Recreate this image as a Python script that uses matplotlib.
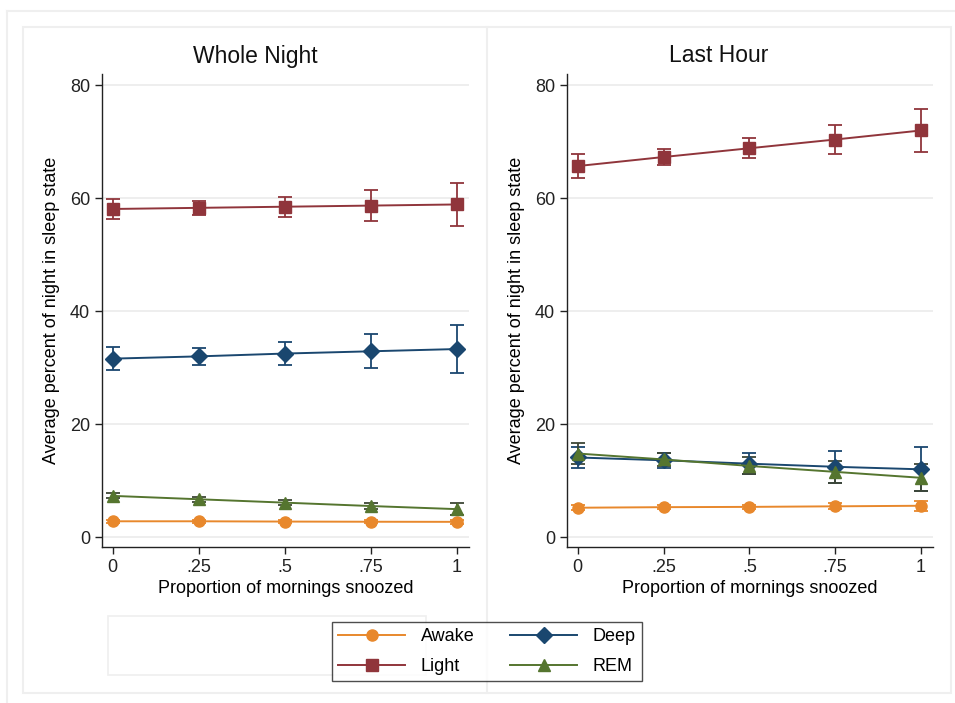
import matplotlib
matplotlib.use("Agg")
import matplotlib.pyplot as plt
from matplotlib.patches import Rectangle
from matplotlib.lines import Line2D

plt.rcParams['font.family'] = ['Liberation Sans', 'DejaVu Sans']

# ---- data ----
x_vals = [0, 0.25, 0.5, 0.75, 1]
x_ticklabels = ["0", ".25", ".5", ".75", "1"]
y_ticks = [0, 20, 40, 60, 80]
series_names = ["Awake", "Light", "Deep", "REM"]
panel_titles = ["Whole Night", "Last Hour"]

# Whole night
wn_awake = [2.8, 2.8, 2.75, 2.72, 2.7]
wn_awake_err = [0.3, 0.25, 0.25, 0.3, 0.4]
wn_light = [58.1, 58.3, 58.5, 58.7, 58.9]
wn_light_err = [1.7, 1.3, 1.8, 2.7, 3.8]
wn_deep = [31.6, 32.0, 32.5, 32.9, 33.3]
wn_deep_err = [2.05, 1.45, 2.0, 3.0, 4.25]
wn_rem = [7.3, 6.7, 6.1, 5.5, 4.95]
wn_rem_err = [0.45, 0.4, 0.45, 0.6, 1.0]

# Last hour
lh_awake = [5.2, 5.3, 5.35, 5.45, 5.55]
lh_awake_err = [0.4, 0.35, 0.4, 0.5, 0.9]
lh_light = [65.7, 67.3, 68.85, 70.4, 72.0]
lh_light_err = [2.05, 1.5, 1.8, 2.65, 3.8]
lh_deep = [14.1, 13.6, 13.0, 12.45, 12.0]
lh_deep_err = [1.9, 1.35, 1.85, 2.8, 3.9]
lh_rem = [14.8, 13.75, 12.6, 11.55, 10.5]
lh_rem_err = [1.8, 1.2, 1.5, 1.9, 2.4]

colors = {"Awake": "#E8882C", "Light": "#90353B", "Deep": "#1A476F", "REM": "#55752F"}
err_colors = {"Awake": "#E8882C", "Light": "#90353B", "Deep": "#1A476F", "REM": "#3E4636"}
markers = {"Awake": "o", "Light": "s", "Deep": "D", "REM": "^"}
msizes = {"Awake": 8, "Light": 8, "Deep": 8, "REM": 9}

panels = [
    {"Awake": (wn_awake, wn_awake_err), "Light": (wn_light, wn_light_err),
     "Deep": (wn_deep, wn_deep_err), "REM": (wn_rem, wn_rem_err)},
    {"Awake": (lh_awake, lh_awake_err), "Light": (lh_light, lh_light_err),
     "Deep": (lh_deep, lh_deep_err), "REM": (lh_rem, lh_rem_err)},
]

W, H = 955, 703
fig = plt.figure(figsize=(W / 100, H / 100), dpi=100)
fig.patch.set_facecolor("white")

def fx(px):
    return px / W

def fy(py):
    return 1 - py / H

# faint frames
frame_col = "#EFEFEF"
fig.add_artist(Line2D([fx(7), fx(7)], [fy(11), fy(703)], color=frame_col, lw=1.5))
fig.add_artist(Line2D([fx(7), fx(955)], [fy(11), fy(11)], color=frame_col, lw=1.5))
fig.add_artist(Rectangle((fx(23), fy(693)), fx(951) - fx(23), fy(27) - fy(693),
                         fill=False, edgecolor=frame_col, lw=1.5))
fig.add_artist(Line2D([fx(487), fx(487)], [fy(27), fy(693)], color=frame_col, lw=1.5))
fig.add_artist(Rectangle((fx(108), fy(675)), fx(426) - fx(108), fy(616) - fy(675),
                         fill=False, edgecolor=frame_col, lw=1.2))

axes_px = [(101.7, 469), (566.7, 933)]
panel_centers = [255, 719]
top_px, bot_px = 74, 546.7
handles = {}
for i, (l, r) in enumerate(axes_px):
    ax = fig.add_axes([fx(l), fy(bot_px), fx(r) - fx(l), fy(top_px) - fy(bot_px)])
    ax.set_xlim(-0.032, 1.035)
    ax.set_ylim(-1.7, 82.0)
    for s in ["top", "right"]:
        ax.spines[s].set_visible(False)
    for s in ["left", "bottom"]:
        ax.spines[s].set_color("#222222")
        ax.spines[s].set_linewidth(1.0)
    ax.set_yticks(y_ticks)
    ax.set_yticklabels([str(v) for v in y_ticks])
    ax.set_xticks(x_vals)
    ax.set_xticklabels(x_ticklabels)
    ax.tick_params(axis="both", labelsize=13, colors="#222222", length=5, width=1.0)
    ax.yaxis.grid(True, color="#EBEBEB", lw=1.2)
    ax.set_axisbelow(True)
    fig.text(fx(panel_centers[i]), fy(56), panel_titles[i], fontsize=16.5,
             color="#111111", ha="center", va="center")
    ax.set_xlabel("Proportion of mornings snoozed", fontsize=13, labelpad=3)
    ax.set_ylabel("Average percent of night in sleep state", fontsize=13, labelpad=7)
    for name in series_names:
        vals, errs = panels[i][name]
        ax.errorbar(x_vals, vals, yerr=errs, fmt="none", ecolor=err_colors[name],
                    elinewidth=1.3, capsize=5, capthick=1.3, zorder=2)
    for name in ["Awake", "Light", "Deep", "REM"]:
        vals, errs = panels[i][name]
        h, = ax.plot(x_vals, vals, color=colors[name], marker=markers[name],
                     markersize=msizes[name], lw=1.4, zorder=3)
        handles[name] = h

leg_order = ["Awake", "Light", "Deep", "REM"]
leg = fig.legend([handles[n] for n in leg_order], leg_order, ncol=2,
                 loc="center", bbox_to_anchor=(fx(487), fy(651.5)),
                 frameon=True, fancybox=False, edgecolor="#222222", fontsize=13,
                 handlelength=3.7, columnspacing=2.0, handletextpad=0.85,
                 borderpad=0.35, labelspacing=0.7)
leg.get_frame().set_linewidth(1.0)

fig.savefig("out.png", dpi=100, facecolor="white")
